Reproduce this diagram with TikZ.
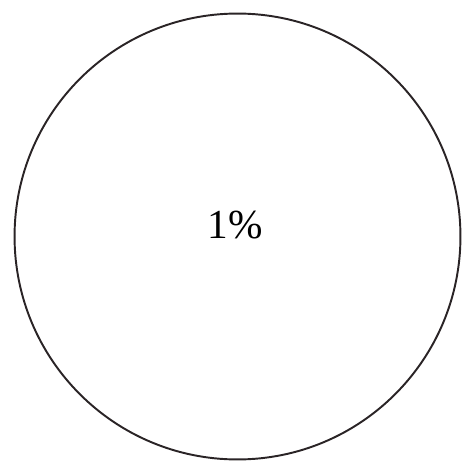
\documentclass[tikz,border=0pt]{standalone}
\usepackage{fontspec}
\setmainfont{Liberation Serif}
\usepackage{tikz}
\definecolor{Ring}{HTML}{2A2426}

\begin{document}
\begin{tikzpicture}[x=0.02cm,y=-0.02cm,
  ring/.style={circle,draw=Ring,line width=1.1pt,minimum size=8.92cm,inner sep=0pt},
  share/.style={font=\fontsize{23.5}{28}\selectfont}
]
\useasboundingbox (0,0) rectangle (461,462);
\node[ring] (pie) at (237.5,236.5) {};
\node[share] (pct) at (235.5,225) {1\%};
\end{tikzpicture}
\end{document}
